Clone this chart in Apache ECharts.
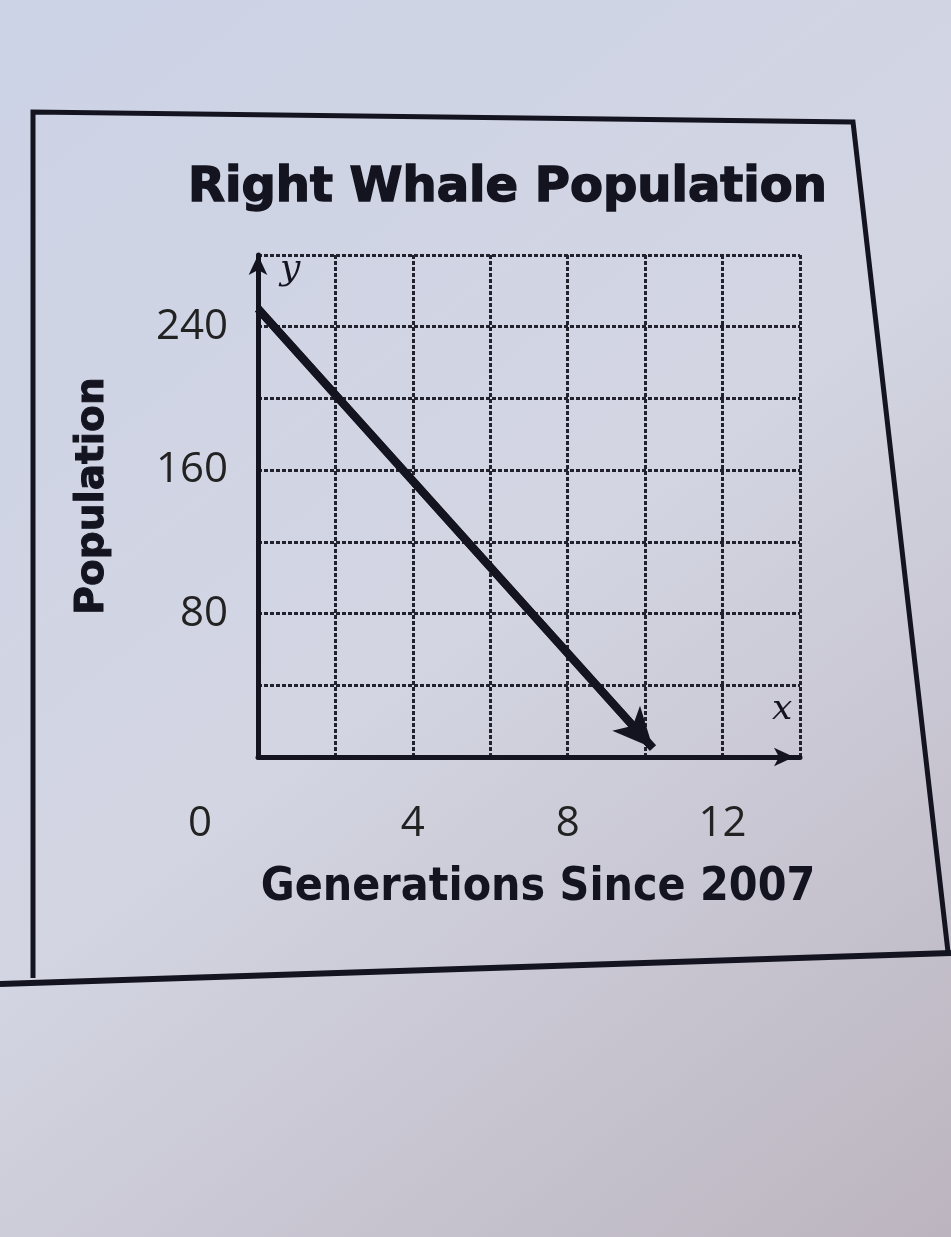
<!DOCTYPE html>
<html>
<head>
<meta charset="utf-8">
<script src="https://cdn.jsdelivr.net/npm/echarts@6/dist/echarts.min.js"></script>
<style>html,body{margin:0;padding:0;}#c{width:951px;height:1237px;}</style>
</head>
<body>
<div id="c"></div>
<script>
const titleText = 'Right Whale Population';
const xName = 'Generations Since 2007';
const yName = 'Population';
const xTicks = [0, 4, 8, 12];
const yTicks = [80, 160, 240];
const lineX = [0, 10.2];
const lineY = [250, 5];

const chart = echarts.init(document.getElementById('c'));
const ink = '#141420';
const pts = lineX.map((x, i) => [x, lineY[i]]);

chart.setOption({
  animation: false,
  backgroundColor: new echarts.graphic.LinearGradient(0, 0, 1, 1, [
    {offset: 0, color: '#ccd3e6'},
    {offset: 0.5, color: '#d3d5e2'},
    {offset: 1, color: '#bcb5bf'}
  ]),
  title: {
    text: titleText, left: 183, top: 160,
    textStyle: {fontFamily: 'DejaVu Sans', fontWeight: 'bold', fontSize: 48, color: ink,
      textBorderColor: ink, textBorderWidth: 1.5}
  },
  grid: {left: 258, top: 255, right: 151, bottom: 480, containLabel: false},
  xAxis: {
    type: 'value', min: 0, max: 14, interval: 2,
    name: xName, nameLocation: 'middle', nameGap: 108,
    nameTextStyle: {fontFamily: '"DejaVu Sans Condensed", sans-serif', fontWeight: 'bold', fontSize: 46, color: ink,
      padding: [0, 0, 0, 18]},
    axisLine: {show: true, symbol: ['none', 'arrow'], symbolSize: [14, 20], symbolOffset: [0, -6],
      lineStyle: {color: ink, width: 5}},
    axisTick: {show: false},
    axisLabel: {
      margin: 46, fontFamily: 'Open Sans', fontSize: 42, color: '#222',
      formatter: v => xTicks.includes(v) ? (v === 0 ? '{z|0}' : String(v)) : '',
      rich: {z: {fontFamily: 'Open Sans', fontSize: 42, color: '#222', padding: [0, 116, 0, 0]}}
    },
    splitLine: {show: true, lineStyle: {color: '#22222e', width: 3, type: [4, 2]}}
  },
  yAxis: {
    type: 'value', min: 0, max: 280, interval: 40,
    name: yName, nameLocation: 'middle', nameGap: 146, nameRotate: 90,
    nameTextStyle: {fontFamily: 'DejaVu Sans', fontWeight: 'bold', fontSize: 39, color: ink,
      textBorderColor: ink, textBorderWidth: 1, padding: [0, 0, 0, 20]},
    axisLine: {show: true, symbol: ['none', 'arrow'], symbolSize: [14, 20], lineStyle: {color: ink, width: 5}},
    axisTick: {show: false},
    axisLabel: {
      margin: 30, fontFamily: 'Open Sans', fontSize: 42, color: '#222',
      formatter: v => yTicks.includes(v) ? String(v) : ''
    },
    splitLine: {show: true, lineStyle: {color: '#22222e', width: 3, type: [4, 2]}}
  },
  graphic: [
    {type: 'polyline', silent: true, shape: {points: [[33, 978], [33, 112], [853, 122], [948, 952]]},
      style: {stroke: ink, lineWidth: 5, fill: null}},
    {type: 'line', silent: true, shape: {x1: 0, y1: 984, x2: 951, y2: 953},
      style: {stroke: ink, lineWidth: 6}},
    {type: 'text', silent: true, left: 280, top: 252,
      style: {text: 'y', font: 'italic 36px "DejaVu Serif"', fill: ink}},
    {type: 'text', silent: true, left: 772, top: 692,
      style: {text: 'x', font: 'italic 36px "DejaVu Serif"', fill: ink}}
  ],
  series: [{
    type: 'line',
    data: pts,
    showSymbol: false,
    lineStyle: {color: ink, width: 8},
    silent: true,
    markLine: {
      silent: true,
      symbol: ['none', 'arrow'],
      symbolSize: [28, 40],
      label: {show: false},
      lineStyle: {color: ink, width: 8, type: 'solid'},
      data: [[{coord: pts[0]}, {coord: pts[1]}]]
    }
  }]
});
</script>
</body>
</html>
